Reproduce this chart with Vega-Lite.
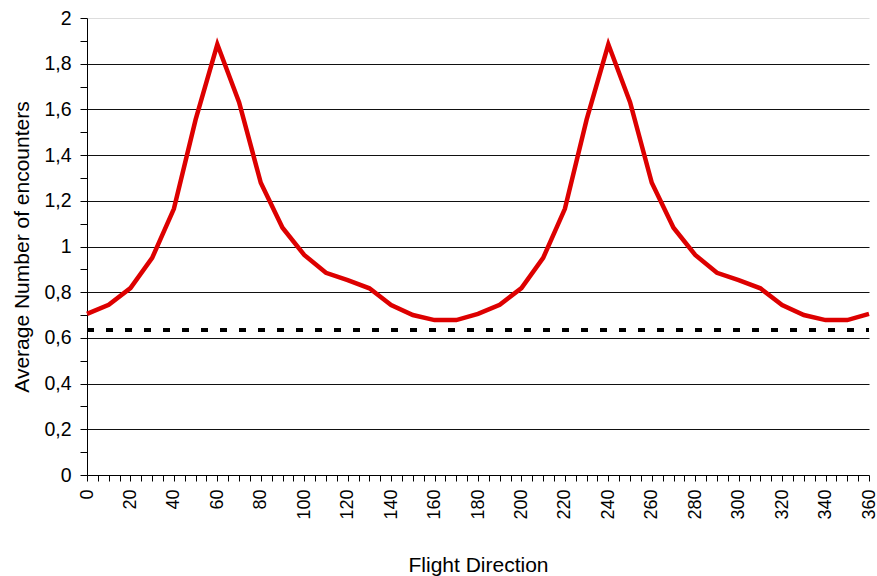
{
  "$schema": "https://vega.github.io/schema/vega-lite/v6.json",
  "width": 782,
  "height": 457,
  "autosize": {"type": "none"},
  "padding": {"left": 87, "top": 18, "right": 8, "bottom": 101},
  "background": "white",
  "config": {
    "view": {"stroke": null},
    "font": "Liberation Sans",
    "axis": {
      "labelFont": "Liberation Sans",
      "titleFont": "Liberation Sans",
      "labelColor": "#000",
      "titleColor": "#000",
      "labelFontSize": 18,
      "titleFontSize": 21,
      "titleFontWeight": "normal",
      "domainColor": "#000",
      "tickColor": "#000",
      "domainWidth": 1,
      "tickWidth": 1
    }
  },
  "data": {
    "values": [
      {"dir": 0, "val": 0.705, "series": "avg"},
      {"dir": 10, "val": 0.745, "series": "avg"},
      {"dir": 20, "val": 0.818, "series": "avg"},
      {"dir": 30, "val": 0.95, "series": "avg"},
      {"dir": 40, "val": 1.165, "series": "avg"},
      {"dir": 50, "val": 1.555, "series": "avg"},
      {"dir": 60, "val": 1.885, "series": "avg"},
      {"dir": 70, "val": 1.632, "series": "avg"},
      {"dir": 80, "val": 1.279, "series": "avg"},
      {"dir": 90, "val": 1.082, "series": "avg"},
      {"dir": 100, "val": 0.963, "series": "avg"},
      {"dir": 110, "val": 0.885, "series": "avg"},
      {"dir": 120, "val": 0.853, "series": "avg"},
      {"dir": 130, "val": 0.817, "series": "avg"},
      {"dir": 140, "val": 0.744, "series": "avg"},
      {"dir": 150, "val": 0.70, "series": "avg"},
      {"dir": 160, "val": 0.678, "series": "avg"},
      {"dir": 170, "val": 0.678, "series": "avg"},
      {"dir": 180, "val": 0.705, "series": "avg"},
      {"dir": 190, "val": 0.745, "series": "avg"},
      {"dir": 200, "val": 0.818, "series": "avg"},
      {"dir": 210, "val": 0.95, "series": "avg"},
      {"dir": 220, "val": 1.165, "series": "avg"},
      {"dir": 230, "val": 1.555, "series": "avg"},
      {"dir": 240, "val": 1.885, "series": "avg"},
      {"dir": 250, "val": 1.632, "series": "avg"},
      {"dir": 260, "val": 1.279, "series": "avg"},
      {"dir": 270, "val": 1.082, "series": "avg"},
      {"dir": 280, "val": 0.963, "series": "avg"},
      {"dir": 290, "val": 0.885, "series": "avg"},
      {"dir": 300, "val": 0.853, "series": "avg"},
      {"dir": 310, "val": 0.817, "series": "avg"},
      {"dir": 320, "val": 0.744, "series": "avg"},
      {"dir": 330, "val": 0.70, "series": "avg"},
      {"dir": 340, "val": 0.678, "series": "avg"},
      {"dir": 350, "val": 0.678, "series": "avg"},
      {"dir": 360, "val": 0.705, "series": "avg"},
      {"dir": 0, "val": 0.635, "series": "base"},
      {"dir": 360, "val": 0.635, "series": "base"}
    ]
  },
  "encoding": {
    "x": {
      "field": "dir",
      "type": "quantitative",
      "scale": {"domain": [0, 360], "nice": false, "zero": false},
      "axis": {
        "title": "Flight Direction",
        "values": [0,5,10,15,20,25,30,35,40,45,50,55,60,65,70,75,80,85,90,95,100,105,110,115,120,125,130,135,140,145,150,155,160,165,170,175,180,185,190,195,200,205,210,215,220,225,230,235,240,245,250,255,260,265,270,275,280,285,290,295,300,305,310,315,320,325,330,335,340,345,350,355,360],
        "labelExpr": "datum.value % 20 === 0 ? datum.value + '' : ''",
        "labelAngle": -90,
        "labelOverlap": false,
        "labelFlush": false,
        "labelBound": false,
        "labelPadding": 8,
        "tickSize": 6,
        "grid": false,
        "titleY": 96,
        "titleBaseline": "alphabetic"
      }
    },
    "y": {
      "field": "val",
      "type": "quantitative",
      "scale": {"domain": [0, 2], "nice": false},
      "axis": {
        "title": "Average Number of encounters",
        "values": [0,0.1,0.2,0.3,0.4,0.5,0.6,0.7,0.8,0.9,1,1.1,1.2,1.3,1.4,1.5,1.6,1.7,1.8,1.9,2],
        "labelExpr": "round(datum.value*10) % 2 === 0 ? replace(format(datum.value, '.1~f'), '.', ',') : ''",
        "labelOverlap": false,
        "labelFlush": false,
        "labelBound": false,
        "labelFontSize": 19.5,
        "tickSize": 7,
        "labelPadding": 9,
        "grid": true,
        "gridOpacity": {"condition": {"test": "round(datum.value*10) % 2 !== 0 || datum.value === 0", "value": 0}, "value": 1},
        "gridColor": {"condition": {"test": "datum.value === 2", "value": "#dddddd"}, "value": "#111111"},
        "gridWidth": 1,
        "titleX": -59,
        "titleY": 228.5,
        "titleBaseline": "alphabetic"
      }
    }
  },
  "layer": [
    {
      "transform": [{"filter": "datum.series === 'base'"}],
      "mark": {"type": "line", "color": "#000000", "strokeWidth": 4, "strokeDash": [7, 12], "strokeCap": "butt"}
    },
    {
      "transform": [{"filter": "datum.series === 'avg'"}],
      "mark": {"type": "line", "color": "#dd0000", "strokeWidth": 4.5, "strokeJoin": "miter", "strokeCap": "butt"}
    }
  ]
}
